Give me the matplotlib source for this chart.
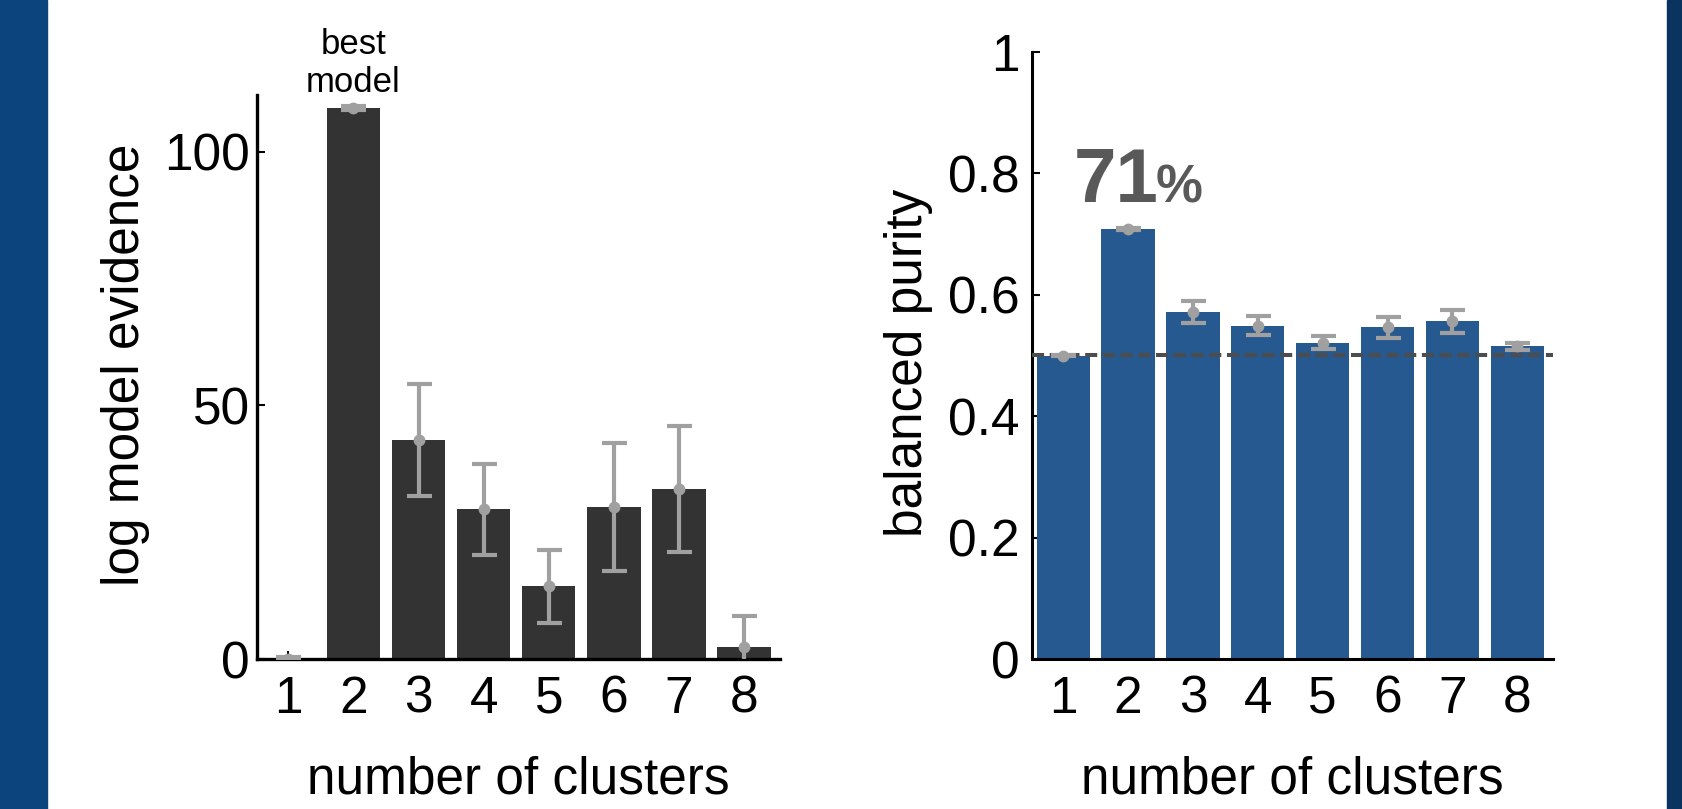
import matplotlib
matplotlib.use('Agg')
import matplotlib.pyplot as plt
from matplotlib.patches import Rectangle

plt.rcParams['font.family'] = ['Liberation Sans', 'DejaVu Sans']

clusters = [1, 2, 3, 4, 5, 6, 7, 8]

# log model evidence (mean and error)
evidence = [0.0, 108.6, 43.2, 29.5, 14.3, 29.9, 33.5, 2.3]
evidenceErr = [0.4, 0.4, 11.0, 9.0, 7.2, 12.6, 12.5, 6.2]

# balanced purity (mean and error)
purity = [0.499, 0.708, 0.571, 0.549, 0.521, 0.546, 0.556, 0.515]
purityErr = [0.001, 0.002, 0.018, 0.016, 0.010, 0.017, 0.019, 0.006]
chance = 0.5

evidenceTicks = [0, 50, 100]
purityTicks = [0, 0.2, 0.4, 0.6, 0.8, 1]
purityTickLabels = ['0', '0.2', '0.4', '0.6', '0.8', '1']

errColor = '#a0a0a0'


def prepareBars(ax, values, errors, color, ticks, ticklabels, top, ylabel, spineWidth, ypad):
    ax.bar(clusters, values, width=0.82, color=color, zorder=2)
    ax.errorbar(clusters, values, yerr=errors, fmt='o', color=errColor, ms=7.5,
                elinewidth=3, capsize=9, capthick=3, zorder=4)
    ax.set_xlim(0.52, 8.55)
    ax.set_ylim(0, top)
    ax.set_axisbelow(True)
    ax.set_xticks(clusters)
    ax.set_yticks(ticks)
    ax.set_yticklabels(ticklabels)
    ax.spines['top'].set_visible(False)
    ax.spines['right'].set_visible(False)
    ax.spines['left'].set_linewidth(spineWidth)
    ax.spines['bottom'].set_linewidth(spineWidth)
    ax.tick_params(axis='both', direction='in', labelsize=37, width=1.5, length=6)
    ax.tick_params(axis='x', pad=11.5)
    ax.tick_params(axis='y', pad=ypad)
    ax.set_xlabel('number of clusters', fontsize=37)
    ax.set_ylabel(ylabel, fontsize=37)


fig = plt.figure(figsize=(16.82, 8.09), dpi=100)

# blue side strips of the slide
fig.patches.append(Rectangle((0, 0), 47 / 1682, 1, transform=fig.transFigure,
                             color='#0c457d', zorder=0))
fig.patches.append(Rectangle((1667 / 1682, 0), 15 / 1682, 1, transform=fig.transFigure,
                             color='#0a3360', zorder=0))

ax1 = fig.add_axes([0.1528, 0.1854, 0.3109, 0.6972])
prepareBars(ax1, evidence, evidenceErr, '#333333', evidenceTicks,
            [str(t) for t in evidenceTicks], 111.2, 'log model evidence', 2.4, 5)
ax1.xaxis.set_label_coords(0.5, -0.171)
ax1.yaxis.set_label_coords(-0.205, 0.521)
ax1.text(2, 110.4, 'best\nmodel', ha='center', va='bottom', fontsize=25, clip_on=False)

ax2 = fig.add_axes([0.6136, 0.1854, 0.3097, 0.7509])
prepareBars(ax2, purity, purityErr, '#26598f', purityTicks, purityTickLabels,
            1, 'balanced purity', 2.2, 9)
ax2.axhline(chance, color='#4d4d4d', lw=2.9, ls=(0, (3.0, 1.4)), zorder=3)
ax2.xaxis.set_label_coords(0.5, -0.159)
ax2.yaxis.set_label_coords(-0.19, 0.487)
ax2.text(1.17, 0.752, '71', ha='left', va='baseline', fontsize=55,
         fontweight='bold', color='#595959')
ax2.text(2.43, 0.752, '%', ha='left', va='baseline', fontsize=38,
         fontweight='bold', color='#595959')

fig.savefig('out.png', dpi=100)
